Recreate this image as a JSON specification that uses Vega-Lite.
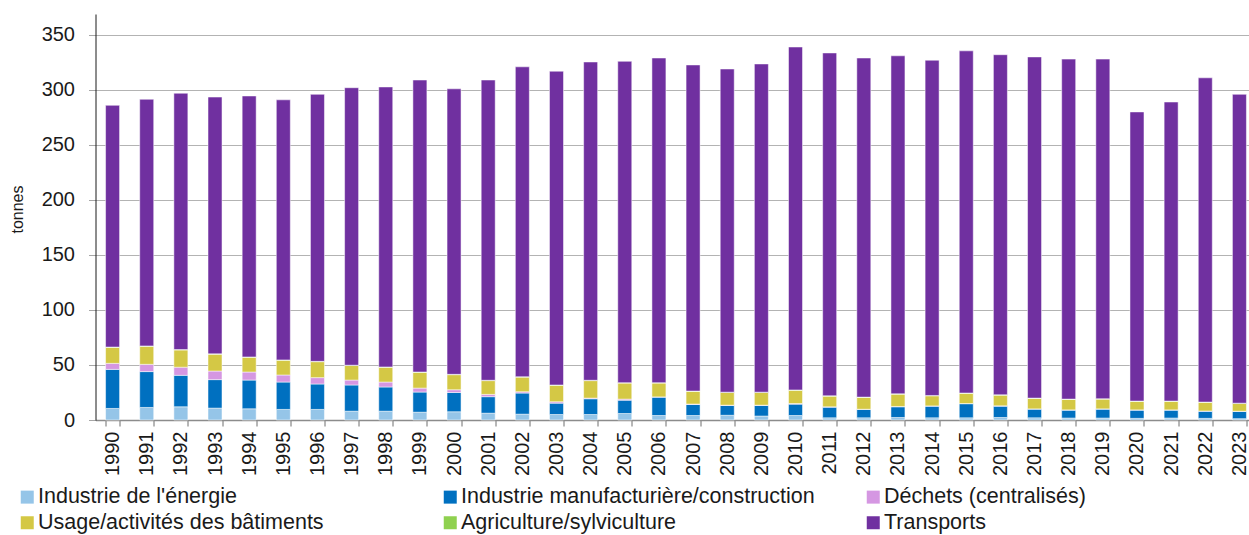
{
  "$schema": "https://vega.github.io/schema/vega-lite/v6.json",
  "autosize": {"type": "none"},
  "width": 1161,
  "height": 406,
  "padding": {"left": 95.5, "top": 14, "right": 0, "bottom": 115},
  "background": "white",
  "config": {
    "view": {"stroke": null},
    "font": "Liberation Sans",
    "axis": {"labelFont": "Liberation Sans", "titleFont": "Liberation Sans", "labelColor": "#1a1a1a", "titleColor": "#1a1a1a"}
  },
  "data": {
    "values": [
      {"year": "1990", "energie": 10.5, "manuf": 35.5, "dechets": 5.5, "usage": 14.5, "agri": 0.3, "transports": 219.7},
      {"year": "1991", "energie": 11.4, "manuf": 32.6, "dechets": 6.6, "usage": 16.4, "agri": 0.3, "transports": 224.2},
      {"year": "1992", "energie": 12.0, "manuf": 28.6, "dechets": 7.4, "usage": 15.7, "agri": 0.3, "transports": 233.0},
      {"year": "1993", "energie": 10.8, "manuf": 25.9, "dechets": 7.8, "usage": 15.3, "agri": 0.3, "transports": 233.4},
      {"year": "1994", "energie": 10.2, "manuf": 26.1, "dechets": 7.3, "usage": 13.4, "agri": 0.3, "transports": 237.2},
      {"year": "1995", "energie": 9.6, "manuf": 24.9, "dechets": 6.4, "usage": 13.4, "agri": 0.3, "transports": 236.4},
      {"year": "1996", "energie": 9.6, "manuf": 23.1, "dechets": 5.8, "usage": 14.5, "agri": 0.3, "transports": 242.7},
      {"year": "1997", "energie": 8.0, "manuf": 23.8, "dechets": 4.5, "usage": 13.2, "agri": 0.3, "transports": 252.2},
      {"year": "1998", "energie": 8.0, "manuf": 22.0, "dechets": 4.5, "usage": 13.4, "agri": 0.3, "transports": 254.5},
      {"year": "1999", "energie": 7.1, "manuf": 18.3, "dechets": 3.6, "usage": 14.3, "agri": 0.3, "transports": 265.4},
      {"year": "2000", "energie": 7.5, "manuf": 17.5, "dechets": 2.5, "usage": 13.7, "agri": 0.3, "transports": 259.5},
      {"year": "2001", "energie": 6.2, "manuf": 15.0, "dechets": 2.1, "usage": 12.5, "agri": 0.3, "transports": 272.9},
      {"year": "2002", "energie": 5.3, "manuf": 19.2, "dechets": 1.2, "usage": 13.3, "agri": 0.3, "transports": 281.7},
      {"year": "2003", "energie": 5.0, "manuf": 10.3, "dechets": 1.3, "usage": 14.9, "agri": 0.3, "transports": 285.2},
      {"year": "2004", "energie": 5.0, "manuf": 14.3, "dechets": 0.6, "usage": 15.9, "agri": 0.3, "transports": 289.3},
      {"year": "2005", "energie": 5.9, "manuf": 12.1, "dechets": 1.0, "usage": 14.6, "agri": 0.3, "transports": 292.1},
      {"year": "2006", "energie": 4.1, "manuf": 16.7, "dechets": 0.2, "usage": 12.6, "agri": 0.3, "transports": 295.1},
      {"year": "2007", "energie": 4.1, "manuf": 10.0, "dechets": 0.4, "usage": 11.5, "agri": 0.3, "transports": 296.4},
      {"year": "2008", "energie": 4.3, "manuf": 8.9, "dechets": 0.3, "usage": 11.5, "agri": 0.3, "transports": 293.7},
      {"year": "2009", "energie": 3.6, "manuf": 9.6, "dechets": 0.3, "usage": 11.5, "agri": 0.3, "transports": 298.3},
      {"year": "2010", "energie": 4.1, "manuf": 10.3, "dechets": 0.6, "usage": 12.0, "agri": 0.3, "transports": 311.7},
      {"year": "2011", "energie": 2.0, "manuf": 9.7, "dechets": 0.3, "usage": 9.7, "agri": 0.3, "transports": 311.6},
      {"year": "2012", "energie": 2.0, "manuf": 7.6, "dechets": 0.2, "usage": 10.7, "agri": 0.3, "transports": 308.2},
      {"year": "2013", "energie": 2.3, "manuf": 9.7, "dechets": 0.3, "usage": 11.2, "agri": 0.3, "transports": 307.2},
      {"year": "2014", "energie": 2.0, "manuf": 10.6, "dechets": 0.2, "usage": 9.2, "agri": 0.3, "transports": 304.7},
      {"year": "2015", "energie": 2.0, "manuf": 12.8, "dechets": 0.2, "usage": 9.2, "agri": 0.3, "transports": 311.0},
      {"year": "2016", "energie": 2.3, "manuf": 10.3, "dechets": 0.3, "usage": 9.7, "agri": 0.3, "transports": 309.1},
      {"year": "2017", "energie": 2.0, "manuf": 7.9, "dechets": 0.2, "usage": 9.5, "agri": 0.3, "transports": 310.1},
      {"year": "2018", "energie": 1.8, "manuf": 7.2, "dechets": 0.2, "usage": 9.5, "agri": 0.3, "transports": 309.0},
      {"year": "2019", "energie": 1.8, "manuf": 8.1, "dechets": 0.2, "usage": 8.9, "agri": 0.3, "transports": 308.7},
      {"year": "2020", "energie": 1.5, "manuf": 7.5, "dechets": 0.2, "usage": 7.7, "agri": 0.3, "transports": 262.8},
      {"year": "2021", "energie": 1.8, "manuf": 7.2, "dechets": 0.2, "usage": 7.7, "agri": 0.3, "transports": 271.8},
      {"year": "2022", "energie": 1.5, "manuf": 6.5, "dechets": 0.2, "usage": 7.8, "agri": 0.3, "transports": 294.7},
      {"year": "2023", "energie": 1.2, "manuf": 6.6, "dechets": 0.2, "usage": 7.0, "agri": 0.3, "transports": 280.7}
    ]
  },
  "transform": [
    {"fold": ["energie", "manuf", "dechets", "usage", "agri", "transports"], "as": ["secteur", "tonnes"]},
    {"calculate": "indexof(['energie','manuf','dechets','usage','agri','transports'], datum.secteur)", "as": "rang"}
  ],
  "mark": {"type": "bar", "stroke": "white", "strokeWidth": 0.5},
  "encoding": {
    "x": {
      "field": "year",
      "type": "ordinal",
      "scale": {"paddingInner": 0.59, "paddingOuter": 0.295},
      "axis": {
        "title": null,
        "labelAngle": -90,
        "labelAlign": "right",
        "labelBaseline": "middle",
        "labelFontSize": 20,
        "labelPadding": 5,
        "tickBand": "extent",
        "tickSize": 6,
        "tickColor": "#6e6e6e",
        "domainColor": "#8c8c8c",
        "domainWidth": 1.5,
        "grid": false
      }
    },
    "y": {
      "field": "tonnes",
      "type": "quantitative",
      "stack": "zero",
      "scale": {"domain": [0, 369], "nice": false},
      "axis": {
        "title": "tonnes",
        "titleFontSize": 16,
        "titleFontWeight": "normal",
        "titleAngle": -90,
        "titleX": -78,
        "titleY": 195,
        "titleAlign": "center",
        "titleBaseline": "middle",
        "values": [0, 50, 100, 150, 200, 250, 300, 350],
        "labelFontSize": 20,
        "labelPadding": 14,
        "tickSize": 7,
        "tickColor": "#a6a6a6",
        "domainColor": "#1a1a1a",
        "grid": true,
        "gridColor": "#b3b3b3",
        "gridWidth": 1.2
      }
    },
    "color": {
      "field": "secteur",
      "type": "nominal",
      "scale": {
        "domain": ["energie", "manuf", "dechets", "usage", "agri", "transports"],
        "range": ["#95c5e8", "#0070c0", "#d597e2", "#d4c845", "#8fd14f", "#7030a0"]
      },
      "legend": {
        "title": null,
        "orient": "none",
        "legendX": -79,
        "legendY": 472,
        "direction": "horizontal",
        "columns": 3,
        "gridAlign": "all",
        "columnPadding": 47,
        "rowPadding": 3,
        "symbolType": "square",
        "symbolSize": 169,
        "symbolStrokeWidth": 0,
        "labelFont": "Liberation Sans",
        "labelFontSize": 21.5,
        "labelColor": "#1a1a1a",
        "labelOffset": 0,
        "labelLimit": 500,
        "labelExpr": "{'energie': 'Industrie de l\\'énergie', 'manuf': 'Industrie manufacturière/construction', 'dechets': 'Déchets (centralisés)', 'usage': 'Usage/activités des bâtiments', 'agri': 'Agriculture/sylviculture', 'transports': 'Transports'}[datum.value]"
      }
    },
    "order": {"field": "rang", "type": "quantitative", "sort": "ascending"}
  }
}
